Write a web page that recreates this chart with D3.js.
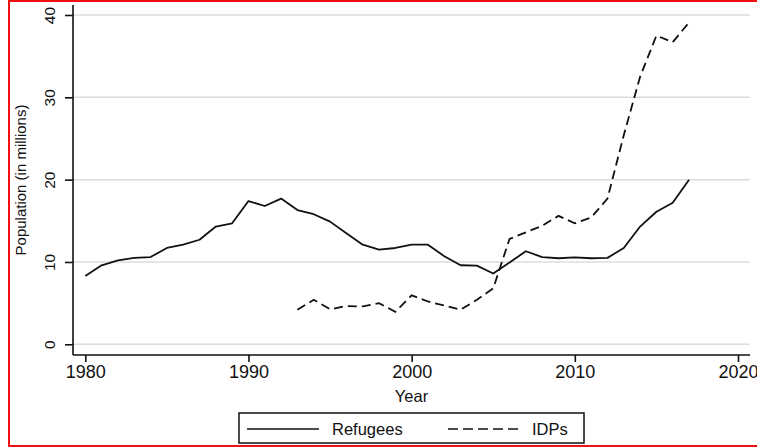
<!DOCTYPE html>
<html>
<head>
<meta charset="utf-8">
<script src="https://cdn.jsdelivr.net/npm/d3@7"></script>
<style>
  body { margin: 0; background: #fff; }
  svg text { font-family: "Liberation Sans", Arial, sans-serif; fill: #111; }
</style>
</head>
<body>
<svg id="chart" width="757" height="447"></svg>
<script>
// years and series (millions)
var refugeeYears = d3.range(1980, 2018);
var refugees = [8.3, 9.6, 10.2, 10.5, 10.6, 11.7, 12.1, 12.7, 14.3, 14.7,
                17.4, 16.8, 17.7, 16.3, 15.8, 14.9, 13.5, 12.1, 11.5, 11.7,
                12.1, 12.1, 10.7, 9.6, 9.55, 8.6, 9.95, 11.3, 10.6, 10.45,
                10.55, 10.45, 10.5, 11.7, 14.3, 16.1, 17.2, 20.0];
var idpYears = d3.range(1993, 2018);
var idps = [4.2, 5.4, 4.25, 4.65, 4.6, 5.0, 3.95, 5.95, 5.2, 4.7,
            4.2, 5.4, 6.8, 12.8, 13.6, 14.4, 15.6, 14.7, 15.4, 17.7,
            25.4, 32.5, 37.5, 36.7, 39.1];
var xTicks = [1980, 1990, 2000, 2010, 2020];
var yTicks = [0, 10, 20, 30, 40];

var svg = d3.select("#chart");

// red frame
svg.append("rect")
    .attr("x", 9).attr("y", 1)
    .attr("width", 760).attr("height", 445)
    .attr("fill", "none")
    .attr("stroke", "#f01010")
    .attr("stroke-width", 2);

var x = d3.scaleLinear().domain([1980, 2020]).range([85.3, 738]);
var y = d3.scaleLinear().domain([0, 40]).range([344.3, 15]);

// plot box (note: "top" is reserved on window, so prefixed names)
var plotLeft = 73, plotRight = 750, plotBottom = 355, plotTop = 5;

// gridlines
svg.append("g")
    .selectAll("line")
    .data(yTicks)
    .enter().append("line")
    .attr("x1", plotLeft).attr("x2", plotRight)
    .attr("y1", function (d) { return y(d); })
    .attr("y2", function (d) { return y(d); })
    .attr("stroke", "#dcdcdc")
    .attr("stroke-width", 1.5);

// y axis
var yAxis = svg.append("g")
    .attr("transform", "translate(" + plotLeft + ",0)")
    .call(d3.axisLeft(y).tickValues(yTicks).tickSize(8).tickPadding(0));
yAxis.select(".domain").attr("d", "M0," + plotTop + "V" + plotBottom);
yAxis.selectAll("text").remove();
yAxis.selectAll(".tick").append("text")
    .attr("transform", "translate(-18,0) rotate(-90)")
    .attr("text-anchor", "middle")
    .attr("font-size", 15.5)
    .attr("fill", "#111")
    .text(function (d) { return d; });

// x axis
var xAxis = svg.append("g")
    .attr("transform", "translate(0," + plotBottom + ")")
    .call(d3.axisBottom(x).tickValues(xTicks).tickSize(7).tickFormat(d3.format("d")).tickPadding(3));
xAxis.select(".domain").attr("d", "M" + plotLeft + ",0H" + plotRight);
xAxis.selectAll("text").attr("font-size", 18).attr("fill", "#111")
    .attr("font-family", "Liberation Sans, Arial, sans-serif");

svg.selectAll(".domain, .tick line")
    .attr("stroke", "#111")
    .attr("stroke-width", 1.6);

// axis titles
svg.append("text")
    .attr("x", (plotLeft + plotRight) / 2).attr("y", 402)
    .attr("text-anchor", "middle")
    .attr("font-size", 16.5)
    .text("Year");

svg.append("text")
    .attr("transform", "translate(26," + ((plotTop + plotBottom) / 2) + ") rotate(-90)")
    .attr("text-anchor", "middle")
    .attr("font-size", 15)
    .text("Population (in millions)");

// lines
var line = d3.line()
    .x(function (d) { return x(d[0]); })
    .y(function (d) { return y(d[1]); });

svg.append("path")
    .datum(d3.zip(refugeeYears, refugees))
    .attr("d", line)
    .attr("fill", "none")
    .attr("stroke", "#111")
    .attr("stroke-width", 1.8)
    .attr("stroke-linejoin", "round");

svg.append("path")
    .datum(d3.zip(idpYears, idps))
    .attr("d", line)
    .attr("fill", "none")
    .attr("stroke", "#111")
    .attr("stroke-width", 1.8)
    .attr("stroke-dasharray", "9,5");

// legend
var legend = svg.append("g");
legend.append("rect")
    .attr("x", 239).attr("y", 413)
    .attr("width", 345).attr("height", 30)
    .attr("fill", "#fff")
    .attr("stroke", "#111")
    .attr("stroke-width", 1.5);
legend.append("line")
    .attr("x1", 247).attr("x2", 319)
    .attr("y1", 429).attr("y2", 429)
    .attr("stroke", "#111").attr("stroke-width", 1.6);
legend.append("text")
    .attr("x", 332).attr("y", 435)
    .attr("font-size", 16.5)
    .text("Refugees");
legend.append("line")
    .attr("x1", 448).attr("x2", 521)
    .attr("y1", 429).attr("y2", 429)
    .attr("stroke", "#111").attr("stroke-width", 1.6)
    .attr("stroke-dasharray", "10,5");
legend.append("text")
    .attr("x", 532).attr("y", 435)
    .attr("font-size", 16.5)
    .text("IDPs");
</script>
</body>
</html>
